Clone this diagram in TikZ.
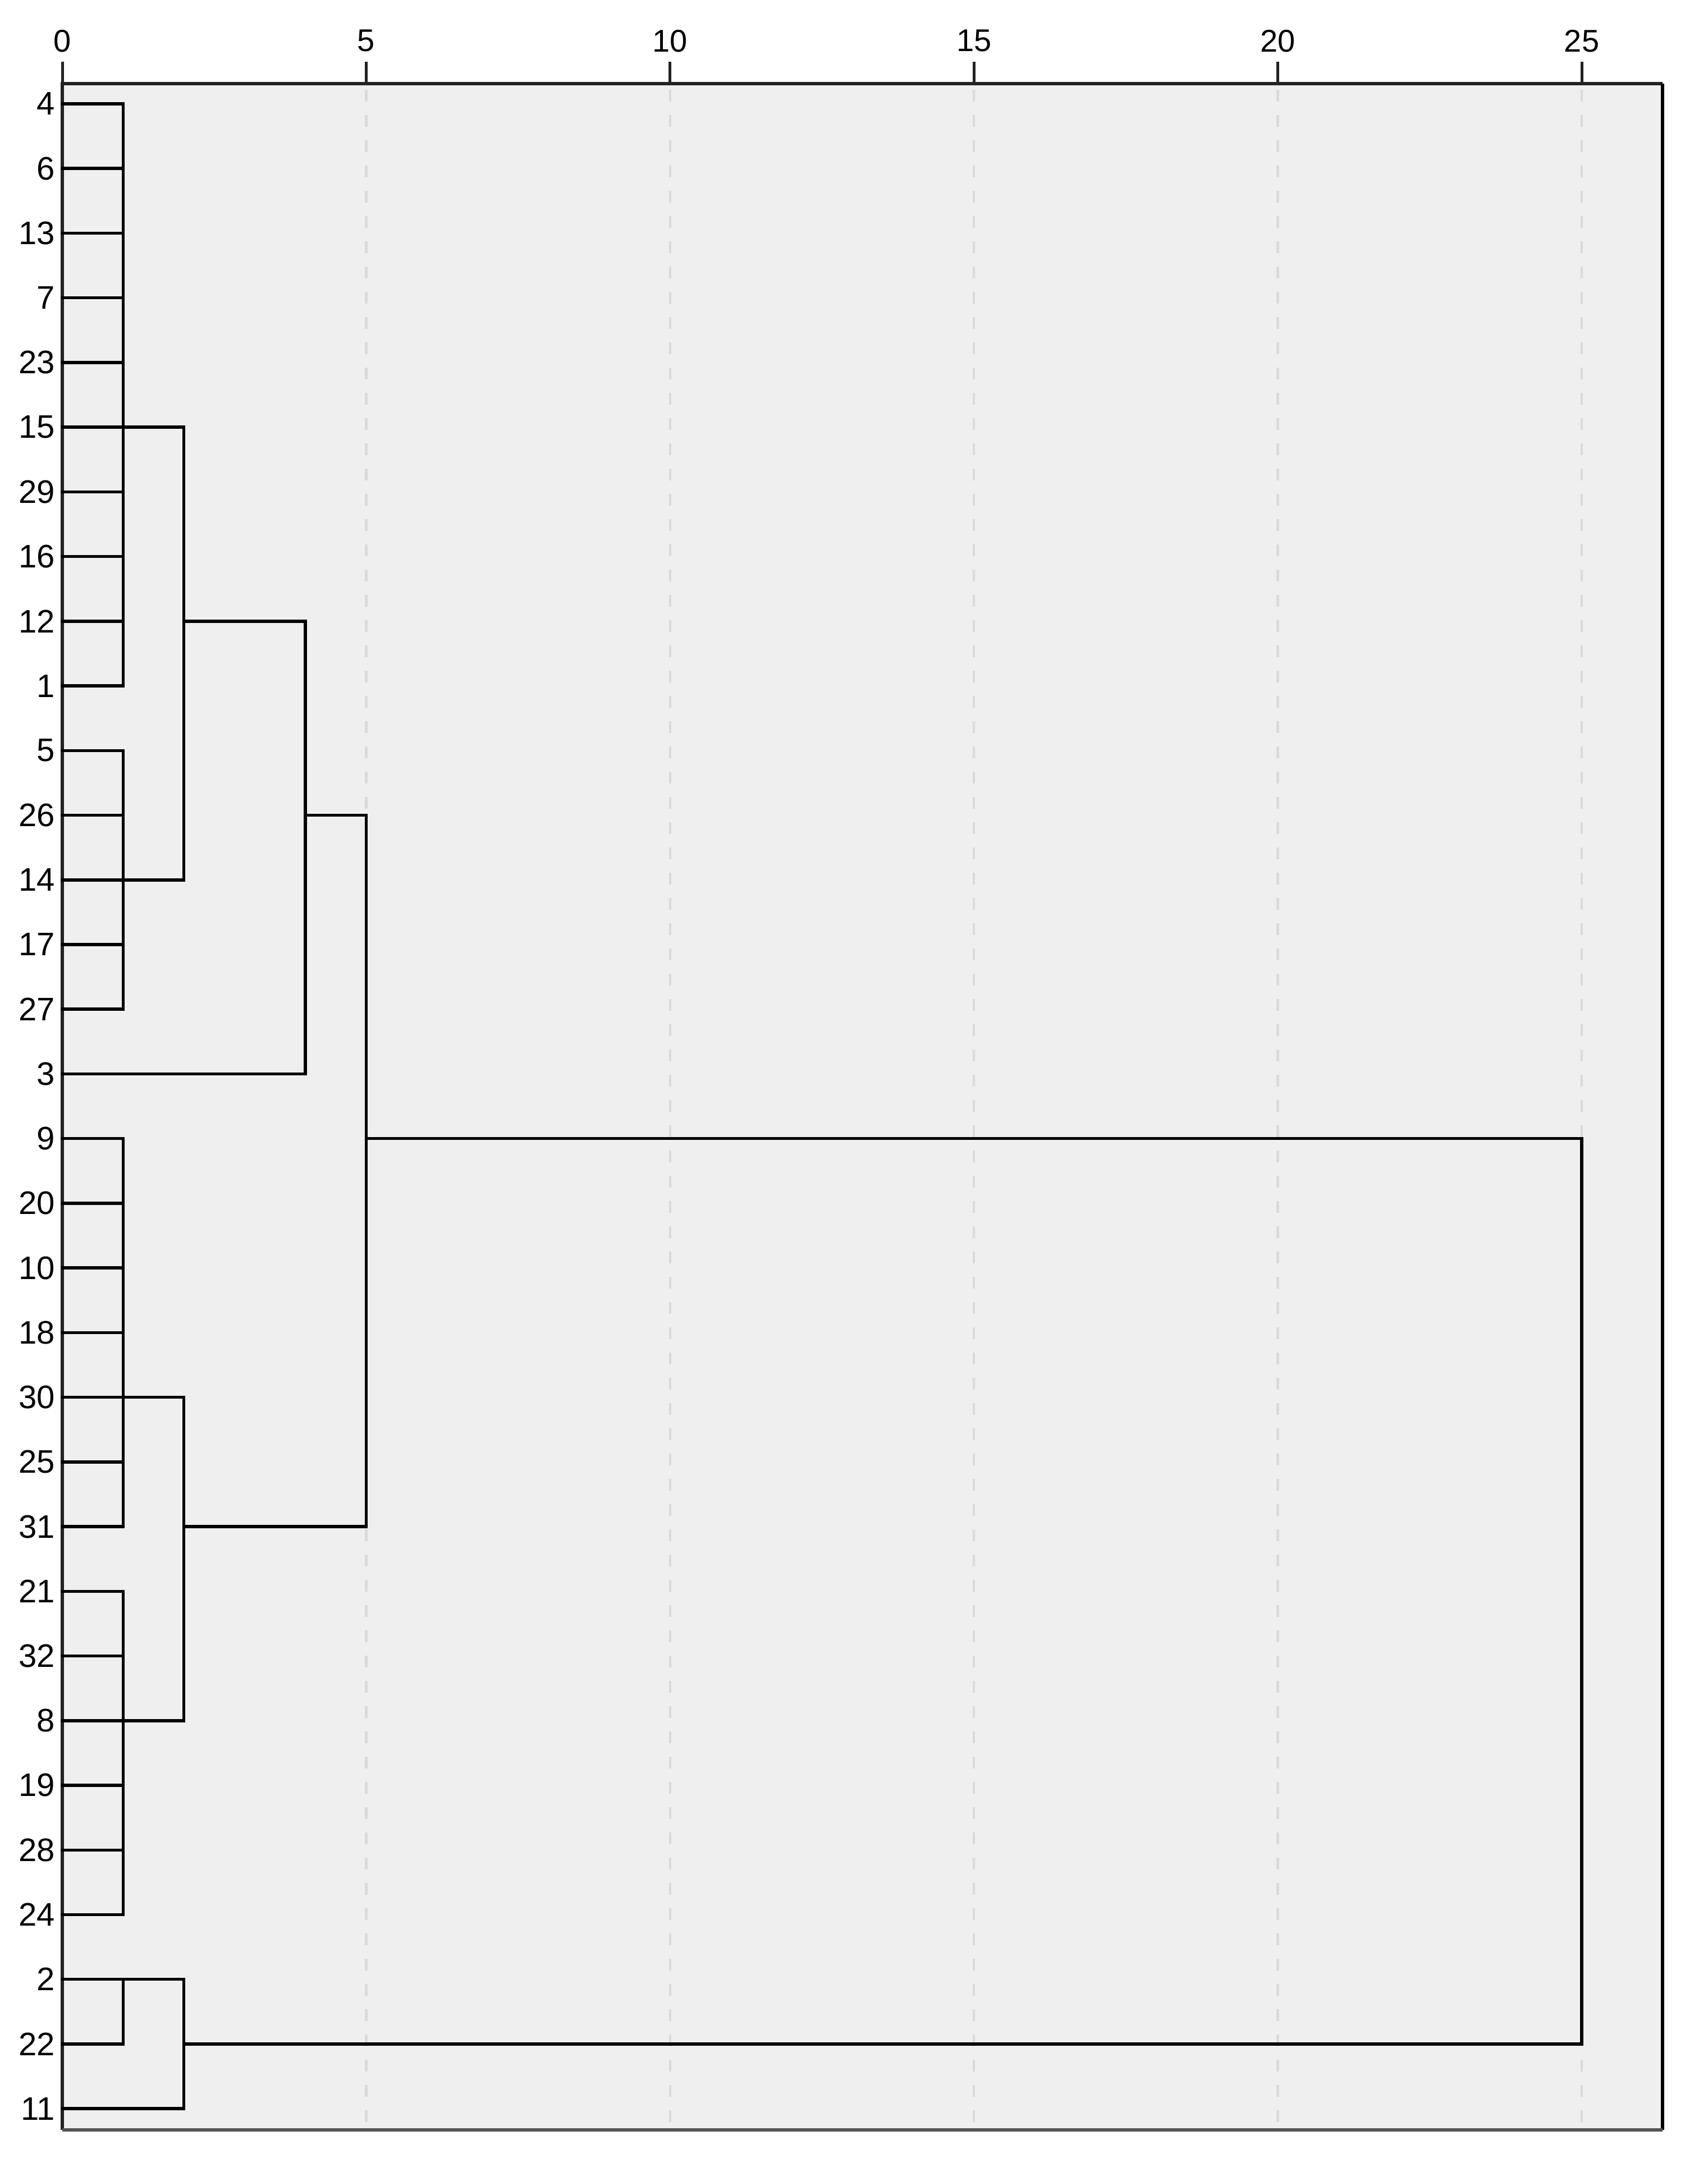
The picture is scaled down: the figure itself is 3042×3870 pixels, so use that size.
\documentclass[tikz,border=0pt]{standalone}
\usepackage{fontspec}
\setmainfont{Liberation Sans}
\definecolor{plotbg}{HTML}{EFEFEF}
\definecolor{gridc}{HTML}{DADADA}
\definecolor{boxdark}{HTML}{222222}
\definecolor{boxbottom}{HTML}{555555}
\begin{document}
\begin{tikzpicture}[x=1pt,y=-1pt,
  dendro/.style={line width=5.5pt, black, line cap=rect},
  gridline/.style={line width=4.5pt, gridc, dash pattern=on 21pt off 24pt},
  tickline/.style={line width=5pt, boxdark},
  leaflabel/.style={anchor=east, inner sep=0pt, font=\fontsize{58}{60}\selectfont},
  ticklabel/.style={anchor=center, inner sep=0pt, font=\fontsize{56}{58}\selectfont},
]
\useasboundingbox (0,0) rectangle (3042,3870);
\fill[white] (0,0) rectangle (3042,3870);
% plot area
\fill[plotbg] (111,149) rectangle (2962,3795);
\foreach \k in {1,...,5}{
  \draw[gridline] ({111+\k*541.4},160) -- ({111+\k*541.4},3792);
}
% axis ticks and labels
\foreach \k/\lab in {0/0,1/5,2/10,3/15,4/20,5/25}{
  \draw[tickline] ({111+\k*541.4},110) -- ({111+\k*541.4},149);
  \node[ticklabel] (t\lab) at ({111+\k*541.4},73) {\lab};
}
% frame
\draw[line width=6pt, boxdark] (111,3795) -- (111,149) -- (2962,149);
\draw[line width=6pt, black] (2962,149) -- (2962,3795);
\draw[line width=6pt, boxbottom] (111,3795) -- (2962,3795);
% dendrogram in (distance,row) coordinates
\begin{scope}[shift={(111,185)}, x=108.28pt, y=-115.23pt]
  \foreach \n [count=\i from 0] in {4,6,13,7,23,15,29,16,12,1,5,26,14,17,27,3,9,20,10,18,30,25,31,21,32,8,19,28,24,2,22,11}{
    \coordinate (p\n) at (0,\i);
    \node[leaflabel] (l\n) at (-0.12,\i) {\n};
  }
  % leaf lines to first merge at distance 1
  \foreach \n in {4,6,13,7,23,15,29,16,12,1,5,26,14,17,27,9,20,10,18,30,25,31,21,32,8,19,28,24,2,22}{
    \draw[dendro] (p\n) -- ++(1,0);
  }
  % merges at distance 1
  \coordinate (a1) at (1,0);  \coordinate (a2) at (1,9);
  \coordinate (b1) at (1,10); \coordinate (b2) at (1,14);
  \coordinate (d1) at (1,16); \coordinate (d2) at (1,22);
  \coordinate (e1) at (1,23); \coordinate (e2) at (1,28);
  \coordinate (f1) at (1,29); \coordinate (f2) at (1,30);
  \draw[dendro] (a1) -- (a2);
  \draw[dendro] (b1) -- (b2);
  \draw[dendro] (d1) -- (d2);
  \draw[dendro] (e1) -- (e2);
  \draw[dendro] (f1) -- (f2);
  % A + B at distance 2
  \coordinate (ab) at (2,8);
  \draw[dendro] (1,5) -- (2,5) -- (2,12) -- (1,12);
  % AB + 3 at distance 4
  \coordinate (abc) at (4,11);
  \draw[dendro] (ab) -- (4,8) -- (4,15) -- (p3);
  % D + E at distance 2
  \coordinate (de) at (2,22);
  \draw[dendro] (1,20) -- (2,20) -- (2,25) -- (1,25);
  % ABC + DE at distance 5
  \coordinate (top) at (5,16);
  \draw[dendro] (abc) -- (5,11) -- (5,22) -- (de);
  % F + 11 at distance 2
  \coordinate (fg) at (2,30);
  \draw[dendro] (1,29) -- (2,29) -- (2,31) -- (p11);
  % root at distance 25
  \draw[dendro] (top) -- (25,16) -- (25,30) -- (fg);
\end{scope}
\end{tikzpicture}
\end{document}
